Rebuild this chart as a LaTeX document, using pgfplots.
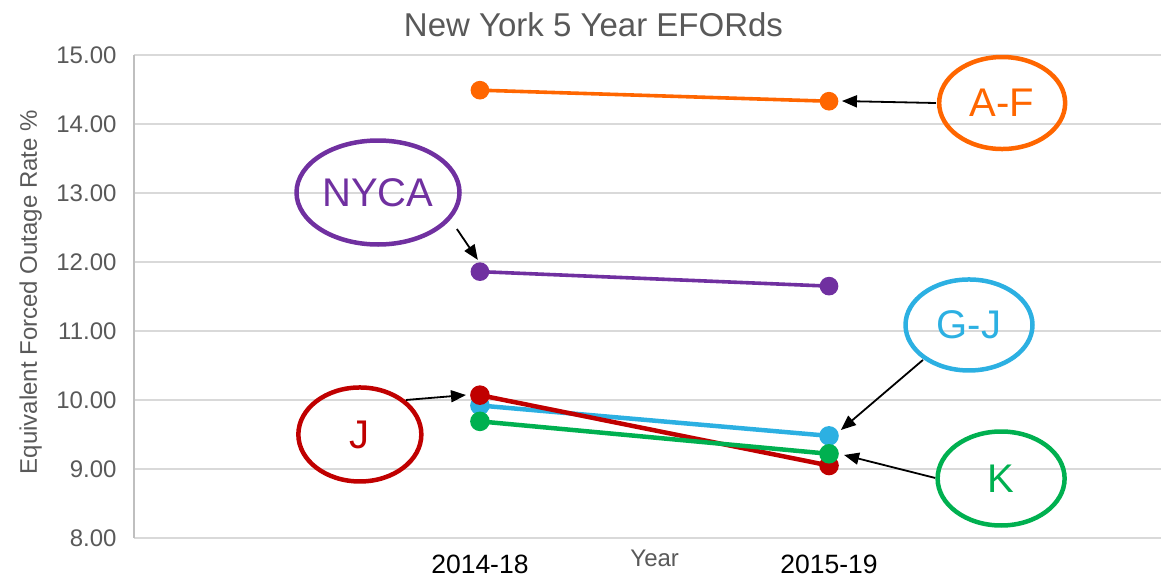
\documentclass[border=0pt]{standalone}
\usepackage{fontspec}
\setmainfont{Liberation Sans}
\usepackage{pgfplots}
\pgfplotsset{compat=1.18}
\usetikzlibrary{arrows.meta,shapes.geometric}
\definecolor{cAF}{HTML}{FF6600}
\definecolor{cNY}{HTML}{7030A0}
\definecolor{cJ}{HTML}{C00000}
\definecolor{cGJ}{HTML}{2CB0E2}
\definecolor{cK}{HTML}{00B050}
\definecolor{gridc}{HTML}{D9D9D9}
\definecolor{axc}{HTML}{BFBFBF}
\definecolor{txt}{HTML}{595959}
\begin{document}
\begin{tikzpicture}
\begin{axis}[
  scale only axis,
  width=1027pt, height=483pt,
  xmin=-0.991, xmax=1.951, ymin=8, ymax=15,
  xtick={0,1}, xticklabels={2014-18,2015-19},
  ytick={8,9,10,11,12,13,14,15},
  yticklabel style={/pgf/number format/fixed, /pgf/number format/fixed zerofill, /pgf/number format/precision=2, /pgf/number format/assume math mode=true},
  yticklabel style={font=\fontsize{24}{28}\selectfont, text=txt, xshift=-14pt},
  xticklabel style={font=\fontsize{26.5}{30}\selectfont, text=black, anchor=base, inner sep=0pt, yshift=-35.5pt},
  major tick length=0pt,
  ymajorgrids,
  grid style={draw=gridc, line width=1.3pt},
  axis x line*=bottom, axis y line*=left,
  x axis line style={draw=gridc, line width=1.3pt, -},
  y axis line style={draw=axc, line width=1.3pt, -},
  clip=false,
]
% data
\addplot[cNY, line width=3.6pt, mark=*, mark size=7.5pt, mark options={solid, fill=cNY, draw=cNY}] coordinates {(0,11.86) (1,11.65)};
\addplot[cAF, line width=3.6pt, mark=*, mark size=7.5pt, mark options={solid, fill=cAF, draw=cAF}] coordinates {(0,14.49) (1,14.33)};
\addplot[cGJ, line width=4.5pt, mark=*, mark size=7.5pt, mark options={solid, fill=cGJ, draw=cGJ}] coordinates {(0,9.92) (1,9.48)};
\addplot[cJ, line width=4.5pt, mark=*, mark size=7.5pt, mark options={solid, fill=cJ, draw=cJ}] coordinates {(0,10.07) (1,9.05)};
\addplot[cK, line width=4.5pt, mark=*, mark size=7.5pt, mark options={solid, fill=cK, draw=cK}] coordinates {(0,9.69) (1,9.22)};
% title and labels
\node[anchor=base, text=txt, font=\fontsize{33}{38}\selectfont] at ([yshift=18pt]rel axis cs:0.4474,1) {New York 5 Year EFORds};
\node[anchor=base, text=txt, font=\fontsize{24}{28}\selectfont] at ([yshift=-29pt]rel axis cs:0.507,0) {Year};
\node[anchor=base, rotate=90, text=txt, font=\fontsize{24}{28}\selectfont] at ([xshift=-97pt]rel axis cs:0,0.509) {Equivalent Forced Outage Rate \%};
% annotations
\node[draw=cAF, line width=4.5pt, ellipse, minimum width=126pt, minimum height=92pt, inner sep=0pt, text=cAF, font=\fontsize{40}{44}\selectfont] at (axis cs:1.496,14.304) {A-F};
\node[draw=cNY, line width=4.5pt, ellipse, minimum width=163pt, minimum height=104pt, inner sep=0pt, text=cNY, font=\fontsize{40}{44}\selectfont] at (axis cs:-0.292,13.007) {NYCA};
\node[draw=cGJ, line width=4.5pt, ellipse, minimum width=127pt, minimum height=91pt, inner sep=0pt, text=cGJ, font=\fontsize{40}{44}\selectfont] at (axis cs:1.401,11.087) {G-J};
\node[draw=cJ, line width=4.5pt, ellipse, minimum width=123pt, minimum height=94pt, inner sep=0pt, text=cJ, font=\fontsize{40}{44}\selectfont] at (axis cs:-0.344,9.5) {J};
\node[draw=cK, line width=4.5pt, ellipse, minimum width=127pt, minimum height=94pt, inner sep=0pt, text=cK, font=\fontsize{40}{44}\selectfont] at (axis cs:1.493,8.862) {K};
\draw[-{Triangle[length=15pt,width=12pt]}, line width=1.8pt] (axis cs:1.306,14.304) -- (axis cs:1.037,14.333);
\draw[-{Triangle[length=15pt,width=12pt]}, line width=1.8pt] (axis cs:-0.066,12.478) -- (axis cs:-0.006,12.03);
\draw[-{Triangle[length=15pt,width=12pt]}, line width=1.8pt] (axis cs:-0.212,10.0) -- (axis cs:-0.040,10.072);
\draw[-{Triangle[length=15pt,width=12pt]}, line width=1.8pt] (axis cs:1.269,10.58) -- (axis cs:1.034,9.565);
\draw[-{Triangle[length=15pt,width=12pt]}, line width=1.8pt] (axis cs:1.304,8.870) -- (axis cs:1.043,9.203);
\end{axis}
\path (current axis.south west) +(-134pt,-40pt) coordinate (bbA);
\path (current axis.north east) +(0pt,55pt) coordinate (bbB);
\pgfresetboundingbox
\useasboundingbox (bbA) rectangle (bbB);
\end{tikzpicture}
\end{document}
